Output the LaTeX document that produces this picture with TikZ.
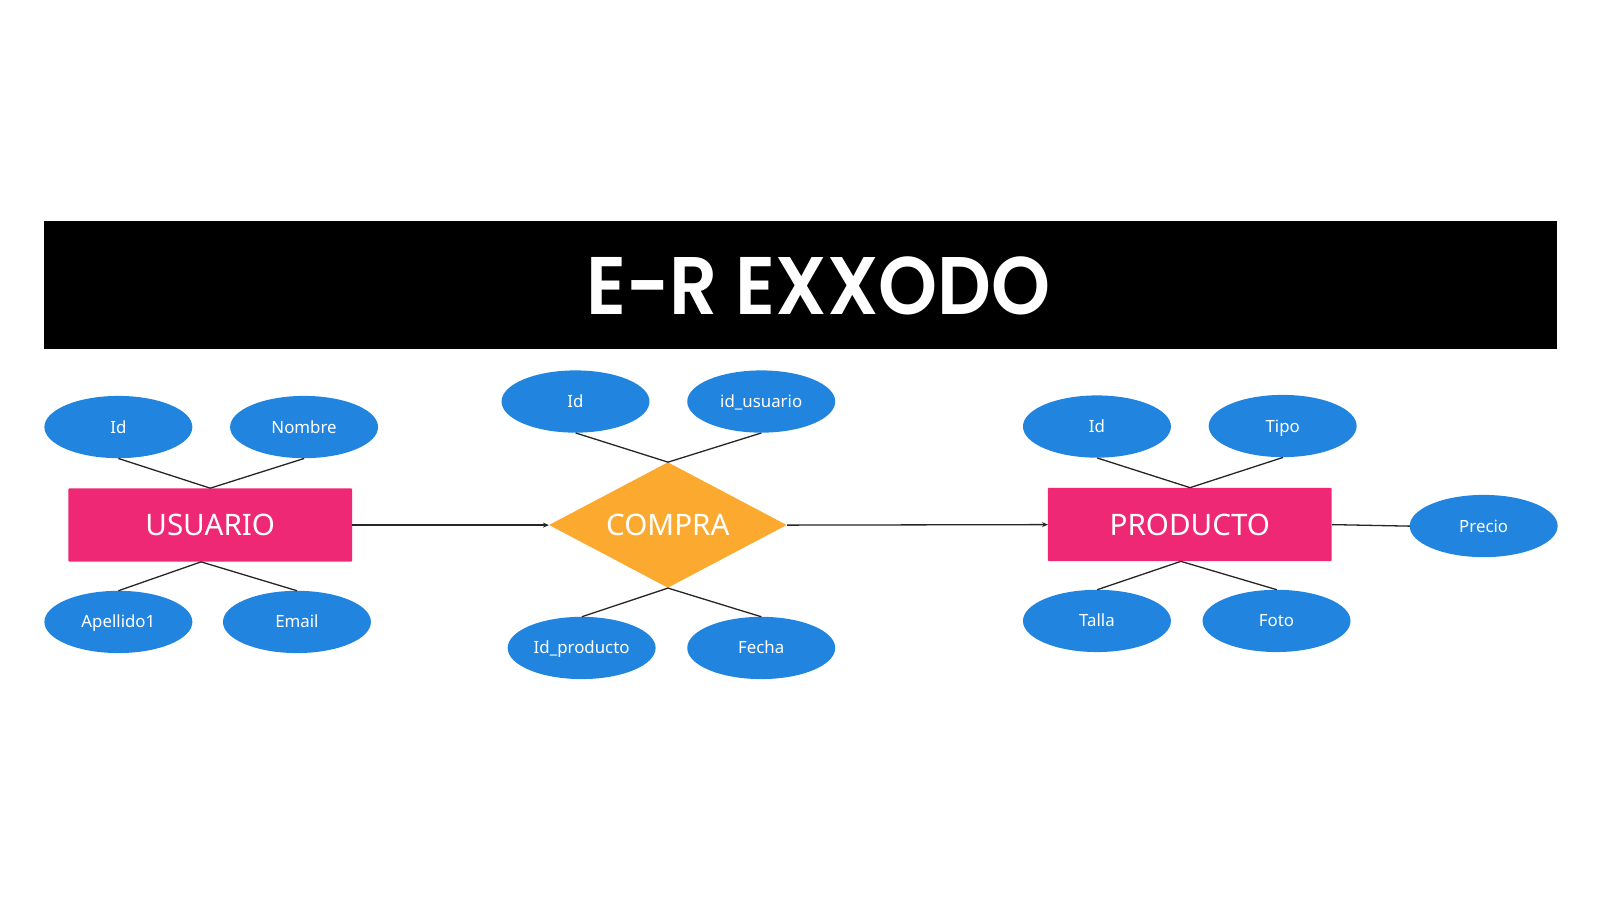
\documentclass[tikz,border=0pt]{standalone}
\usepackage{fontspec}
\setmainfont{Noto Sans}
\newfontfamily\titlefont{Poppins}[BoldFont={Poppins SemiBold}]
\usetikzlibrary{shapes.geometric,arrows.meta}
\definecolor{entpink}{HTML}{EF2876}
\definecolor{attblue}{HTML}{2185E0}
\definecolor{relorange}{HTML}{FBAA2F}
\begin{document}
\begin{tikzpicture}[x=1pt,y=-1pt,scale=1.0204,every node/.append style={transform shape},
  attr/.style={ellipse,fill=attblue,text=white,minimum width=145pt,minimum height=61pt,inner sep=0pt,text height=11.8pt,text depth=0pt,font=\fontsize{16.5}{16.5}\selectfont},
  ent/.style={rectangle,fill=entpink,text=white,minimum width=278pt,minimum height=72pt,inner sep=0pt,rounded corners=1pt,text height=20.7pt,text depth=0pt,font=\fontsize{29}{29}\selectfont},
  rel/.style={diamond,fill=relorange,text=white,minimum width=233pt,minimum height=123pt,aspect=1.9,inner sep=0pt,text height=20.7pt,text depth=0pt,font=\fontsize{29}{29}\selectfont},
  link/.style={draw=black!85,line width=1.3pt},
  flow/.style={draw=black!85,line width=1.3pt,-{Stealth[length=6pt,width=5pt]}}]
\useasboundingbox (0,0) rectangle (1568,882);
\fill[white] (0,0) rectangle (1568,882);
% title bar
\node[fill=black,minimum width=1483pt,minimum height=125pt,inner sep=0pt] (bar) at (784.5,279.5) {};
\node[text=white,xscale=0.92,inner sep=0pt,text height=57pt,text depth=0pt,font=\titlefont\bfseries\fontsize{80}{80}\selectfont] (title) at (802,279.5) {E-R EXXODO};
% entities
\node[ent] (usu) at (206,514.5) {USUARIO};
\node[rel] (com) at (654.5,514.5) {COMPRA};
\node[ent] (pro) at (1166,514) {PRODUCTO};
% usuario attributes
\node[attr] (uid) at (116,418.5) {Id};
\node[attr] (unom) at (298,418.5) {Nombre};
\node[attr] (uape) at (116,609.5) {Apellido1};
\node[attr] (uema) at (291,609.5) {Email};
% compra attributes
\node[attr] (cid) at (564,393.5) {Id};
\node[attr] (cusu) at (746,393.5) {id\_usuario};
\node[attr] (cpro) at (570,635) {Id\_producto};
\node[attr] (cfec) at (746,635) {Fecha};
% producto attributes
\node[attr] (pid) at (1075,418) {Id};
\node[attr] (ptip) at (1257,417.5) {Tipo};
\node[attr] (ptal) at (1075,608.5) {Talla};
\node[attr] (pfot) at (1251,608.5) {Foto};
\node[attr] (ppre) at (1454,515.5) {Precio};
% junction points
\coordinate (usb) at (197,550.5);
\coordinate (psb) at (1157,550);
% links
\draw[link] (uid.south) -- (usu.north);
\draw[link] (unom.south) -- (usu.north);
\draw[link] (usb) -- (uape.north);
\draw[link] (usb) -- (uema.north);
\draw[link] (cid.south) -- (com.north);
\draw[link] (cusu.south) -- (com.north);
\draw[link] (com.south) -- (cpro.north);
\draw[link] (com.south) -- (cfec.north);
\draw[link] (pid.south) -- (pro.north);
\draw[link] (ptip.south) -- (pro.north);
\draw[link] (psb) -- (ptal.north);
\draw[link] (psb) -- (pfot.north);
\draw[link] (pro.east) -- (ppre.west);
% flows
\draw[flow] (usu.east) -- (com.west);
\draw[flow] (com.east) -- (pro.west);
\end{tikzpicture}
\end{document}
